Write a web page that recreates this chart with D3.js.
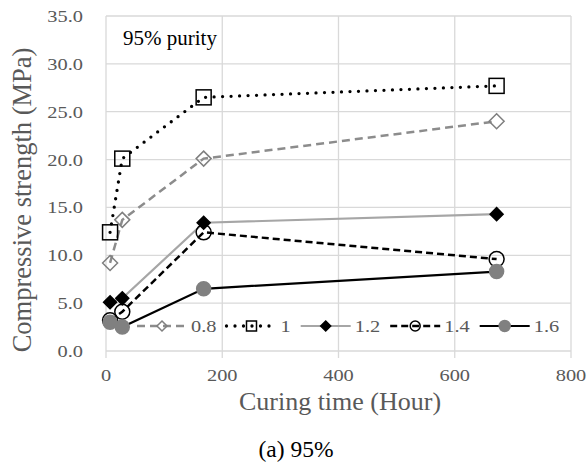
<!DOCTYPE html>
<html>
<head>
<meta charset="utf-8">
<script src="https://cdn.jsdelivr.net/npm/d3@7"></script>
<style>
  body { margin: 0; background: #fff; }
  svg text { font-family: "Liberation Serif", "Times New Roman", serif; }
</style>
</head>
<body>
<div id="chart"></div>
<script>
// curing time (hours) and strength for each ratio
const hours = [7, 28, 168, 672];
const s08 = [9.2, 13.7, 20.1, 24.0];
const s10 = [12.4, 20.1, 26.5, 27.7];
const s12 = [5.1, 5.5, 13.4, 14.3];
const s14 = [3.2, 4.1, 12.4, 9.6];
const s16 = [3.0, 2.5, 6.5, 8.3];
const seriesNames = ["0.8", "1", "1.2", "1.4", "1.6"];
const xTicks = [0, 200, 400, 600, 800];
const yTicks = [0, 5, 10, 15, 20, 25, 30, 35];

const W = 587, H = 468;
const margin = { top: 16, right: 16, bottom: 117, left: 106 };
const width = W - margin.left - margin.right,
  height = H - margin.top - margin.bottom;

const svg = d3.select("#chart").append("svg")
  .attr("width", W).attr("height", H);
const g = svg.append("g")
  .attr("transform", `translate(${margin.left}, ${margin.top})`);

const x = d3.scaleLinear().domain([0, 800]).range([0, width]);
const y = d3.scaleLinear().domain([0, 35]).range([height, 0]);

const grid = "#d9d9d9", labelCol = "#595959";

// grid lines
g.append("g").selectAll("line").data(yTicks).join("line")
  .attr("x1", 0).attr("x2", width)
  .attr("y1", d => y(d)).attr("y2", d => y(d))
  .attr("stroke", grid).attr("stroke-width", 1.3);
g.append("g").selectAll("line").data(xTicks).join("line")
  .attr("x1", d => x(d)).attr("x2", d => x(d))
  .attr("y1", 0).attr("y2", height + 7)
  .attr("stroke", grid).attr("stroke-width", 1.3);

// tick labels (slightly wide in the original)
g.append("g").selectAll("text").data(yTicks).join("text")
  .attr("transform", d => `translate(-23, ${y(d) + 6}) scale(1.2,1)`)
  .attr("text-anchor", "end")
  .attr("font-size", 17).attr("fill", labelCol)
  .text(d => d.toFixed(1));
g.append("g").selectAll("text").data(xTicks).join("text")
  .attr("transform", d => `translate(${x(d)}, ${height + 30}) scale(1.2,1)`)
  .attr("text-anchor", "middle")
  .attr("font-size", 17).attr("fill", labelCol)
  .text(d => d);

// axis titles
svg.append("text")
  .attr("transform", `translate(31, 200) rotate(-90)`)
  .attr("text-anchor", "middle")
  .attr("font-size", 26.5).attr("fill", labelCol)
  .text("Compressive strength (MPa)");
svg.append("text")
  .attr("x", 340).attr("y", 410)
  .attr("text-anchor", "middle")
  .attr("font-size", 26).attr("fill", labelCol)
  .text("Curing time (Hour)");
svg.append("text")
  .attr("x", 296).attr("y", 457)
  .attr("text-anchor", "middle")
  .attr("font-size", 23.5).attr("fill", "#000")
  .text("(a) 95%");
svg.append("text")
  .attr("x", 123).attr("y", 45)
  .attr("font-size", 21).attr("fill", "#000")
  .text("95% purity");

// series styles
const styles = [
  { vals: s08, stroke: "#8c8c8c", sw: 2.5, dash: "8,5", cap: "butt", marker: "diamond", mfill: "none", mstroke: "#7f7f7f", size: 15, lsize: 10 },
  { vals: s10, stroke: "#000", sw: 3.3, dash: "0,8.5", cap: "round", marker: "square", mfill: "none", mstroke: "#000", size: 15, lsize: 10 },
  { vals: s12, stroke: "#a6a6a6", sw: 2.2, dash: null, cap: "butt", marker: "diamond", mfill: "#000", mstroke: "#000", size: 13, lsize: 10 },
  { vals: s14, stroke: "#000", sw: 2.5, dash: "7,4", cap: "butt", marker: "circle", mfill: "none", mstroke: "#000", size: 15, lsize: 10 },
  { vals: s16, stroke: "#000", sw: 2.2, dash: null, cap: "butt", marker: "circle", mfill: "#808080", mstroke: "#808080", size: 14, lsize: 11 }
];

function drawMarker(sel, st, cx, cy, s) {
  if (st.marker === "circle") {
    sel.append("circle").attr("cx", cx).attr("cy", cy).attr("r", s / 2)
      .attr("fill", st.mfill).attr("stroke", st.mstroke).attr("stroke-width", 1.5);
  } else if (st.marker === "square") {
    sel.append("rect").attr("x", cx - s / 2).attr("y", cy - s / 2)
      .attr("width", s).attr("height", s)
      .attr("fill", st.mfill).attr("stroke", st.mstroke).attr("stroke-width", 1.5);
  } else {
    const h = s / 2;
    sel.append("path")
      .attr("d", `M${cx},${cy - h}L${cx + h},${cy}L${cx},${cy + h}L${cx - h},${cy}Z`)
      .attr("fill", st.mfill).attr("stroke", st.mstroke).attr("stroke-width", 1.5);
  }
}

const line = d3.line().x((d, i) => x(hours[i])).y(d => y(d));

styles.forEach(st => {
  const sg = g.append("g");
  sg.append("path").datum(st.vals)
    .attr("d", line)
    .attr("fill", "none")
    .attr("stroke", st.stroke)
    .attr("stroke-width", st.sw)
    .attr("stroke-linecap", st.cap)
    .attr("stroke-dasharray", st.dash);
  st.vals.forEach((v, i) => drawMarker(sg, st, x(hours[i]), y(v), st.size));
});

// legend
const legY = 326;
const leg = svg.append("g");
let lx = 137;
styles.forEach((st, i) => {
  leg.append("line")
    .attr("x1", lx).attr("x2", lx + 50)
    .attr("y1", legY).attr("y2", legY)
    .attr("stroke", st.stroke).attr("stroke-width", st.sw)
    .attr("stroke-linecap", st.cap)
    .attr("stroke-dasharray", st.dash);
  drawMarker(leg, st, lx + 25, legY, st.lsize);
  const t = leg.append("text")
    .attr("transform", `translate(${lx + 54}, ${legY + 6}) scale(1.2,1)`)
    .attr("font-size", 17).attr("fill", labelCol)
    .text(seriesNames[i]);
  lx = lx + 54 + t.node().getComputedTextLength() * 1.2 + 10;
});
</script>
</body>
</html>
